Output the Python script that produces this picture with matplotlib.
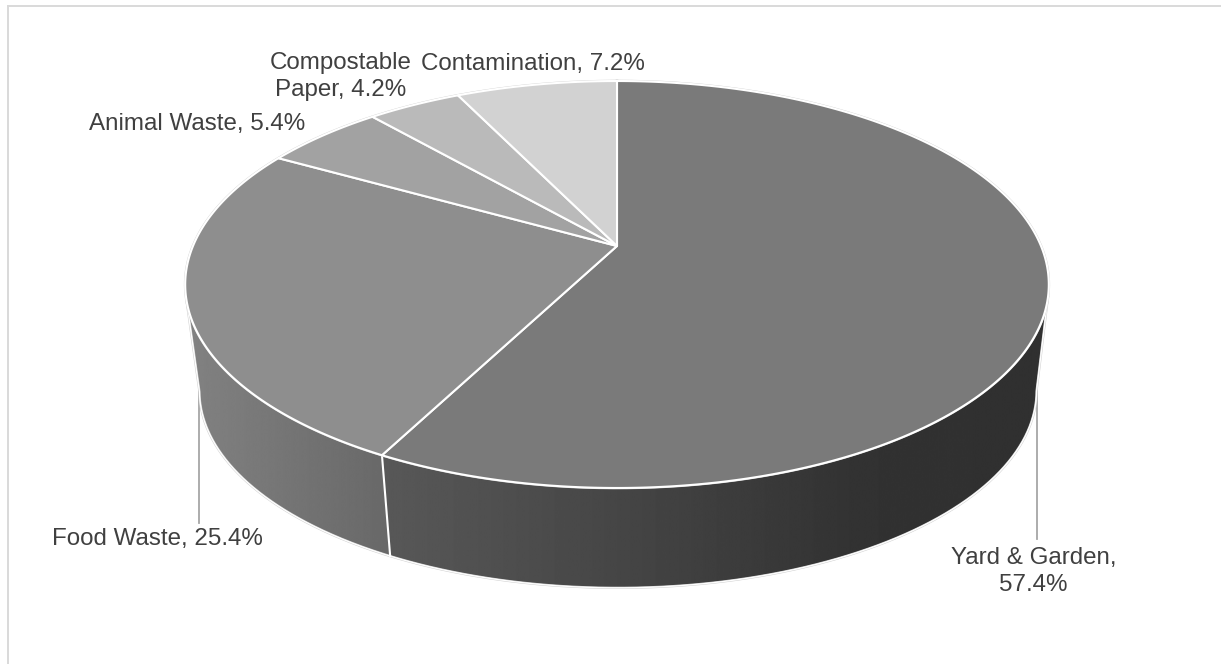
import numpy as np
import matplotlib
matplotlib.use("Agg")
import matplotlib.pyplot as plt
from matplotlib.patches import Polygon

plt.rcParams['font.family'] = ['Liberation Sans', 'DejaVu Sans']

categories = ["Yard & Garden", "Food Waste", "Animal Waste", "Compostable Paper", "Contamination"]
shares = [57.4, 25.4, 5.4, 4.2, 7.2]
face_colors = ["#7a7a7a", "#8e8e8e", "#a2a2a2", "#bababa", "#d2d2d2"]

W, H = 1221, 664
fig = plt.figure(figsize=(W / 100, H / 100), dpi=100, facecolor="white")
ax = fig.add_axes([0, 0, 1, 1])
ax.set_xlim(0, W)
ax.set_ylim(H, 0)
ax.axis("off")

# Chart frame: only the top and left rules show
ax.plot([8, 8], [H, 5.5], color="#d9d9d9", lw=1.4, zorder=1)
ax.plot([8, W], [5.5, 5.5], color="#d9d9d9", lw=1.4, zorder=1)


def rim(theta, cx, cy, rx, ry_up, tilt=0.1892):
    """Perspective projection of a disc edge; theta runs clockwise from 12 o'clock."""
    u, v = np.sin(theta), np.cos(theta)
    d = 1 + tilt * v
    return cx + rx * u / d, cy - ry_up * v / d


def top(theta):
    return rim(theta, 617.0, 246.0, 424.0, 196.2)


def bottom(theta):
    return rim(theta, 618.0, 353.5, 411.0, 190.0)


edges = 2 * np.pi * np.concatenate([[0], np.cumsum(shares)]) / sum(shares)

# Where the disc wall leaves the top rim on each side
grid = np.linspace(np.pi / 3, np.pi - 0.01, 800)
bx, by = bottom(grid)
i_r = np.argmax(bx)
tx, ty = top(grid)
mask = ty < by[i_r]
slope = (tx - bx[i_r]) / (by[i_r] - ty)
slope[~mask] = -np.inf
t_right_top, t_right_bot = grid[np.argmax(slope)], grid[i_r]
grid_l = 2 * np.pi - grid
bx, by = bottom(grid_l)
i_l = np.argmin(bx)
tx, ty = top(grid_l)
mask = ty < by[i_l]
slope = (bx[i_l] - tx) / (by[i_l] - ty)
slope[~mask] = -np.inf
t_left_top, t_left_bot = grid_l[np.argmax(slope)], grid_l[i_l]


def wall(t0_top, t1_top, t0_bot, t1_bot):
    a = np.linspace(t0_top, t1_top, 300)
    b = np.linspace(t1_bot, t0_bot, 300)
    return np.column_stack([np.r_[top(a)[0], bottom(b)[0]], np.r_[top(a)[1], bottom(b)[1]]])


# Leader lines run behind the wall
ax.plot([1037, 1037], [385, 539], color="#a6a6a6", lw=1.3, zorder=2)
ax.plot([199, 199], [390, 523], color="#a6a6a6", lw=1.3, zorder=2)

split = edges[1]
walls = [
    (wall(t_right_top, split, t_right_bot, split), (380, 1050), [0x58, 0x44, 0x32, 0x30], [385, 640, 860, 1050]),
    (wall(split, t_left_top, split, t_left_bot), (185, 395), [0x82, 0x68], [185, 392]),
]
for verts, (x0, x1), shades, stops in walls:
    xs = np.linspace(x0, x1, 1024)
    ramp = np.interp(xs, stops, shades) / 255
    im = ax.imshow(ramp[None, :], extent=(x0, x1, 610, 270), cmap="gray", vmin=0, vmax=1,
                   aspect="auto", interpolation="bilinear", zorder=3)
    poly = Polygon(verts, closed=True, transform=ax.transData, facecolor="none", edgecolor="none")
    ax.add_patch(poly)
    im.set_clip_path(poly)
ax.set_xlim(0, W)
ax.set_ylim(H, 0)

# Outer outline of the wall
for t0_top, t0_bot, t1 in [(t_right_top, t_right_bot, split), (t_left_top, t_left_bot, split)]:
    b = np.linspace(t0_bot, t1, 300)
    bxs, bys = bottom(b)
    tx0, ty0 = top(t0_top)
    ax.plot(np.r_[tx0, bxs], np.r_[ty0, bys], color="#d0d0d0", lw=1.6, zorder=4, solid_capstyle="round")
    ax.plot(np.r_[tx0, bxs], np.r_[ty0, bys], color="white", lw=0.9, zorder=4, solid_capstyle="round")

# Seam between the two visible wall segments
sx0, sy0 = top(split)
sx1, sy1 = bottom(split)
ax.plot([sx0, sx1], [sy0, sy1], color="white", lw=1.5, zorder=5)

# Top faces
cx, cy = top(0.0)[0], 246.0
full = np.linspace(0, 2 * np.pi, 1200)
ax.plot(*top(full), color="#d0d0d0", lw=1.9, zorder=5)
for start, end, color in zip(edges[:-1], edges[1:], face_colors):
    t = np.linspace(start, end, 400)
    x, y = top(t)
    ax.add_patch(Polygon(np.column_stack([np.r_[cx, x], np.r_[cy, y]]), closed=True,
                         facecolor=color, edgecolor="white", lw=1.5, joinstyle="round", zorder=6))

# Data labels
label_pos = [(1033.5, 571.5), (157, 539), (197.5, 124), (340.5, 76.5), (533, 64)]
for i, (name, value, (lx, ly)) in enumerate(zip(categories, shares, label_pos)):
    if i == 0:
        s = f"{name},\n{value}%"
    elif i == 3:
        first, second = name.split(" ")
        s = f"{first}\n{second}, {value}%"
    else:
        s = f"{name}, {value}%"
    ax.text(lx, ly, s, ha="center", va="center", ma="center", fontsize=17.4,
            color="#404040", linespacing=1.26, zorder=7)

fig.savefig("out.png", dpi=100, facecolor="white")
